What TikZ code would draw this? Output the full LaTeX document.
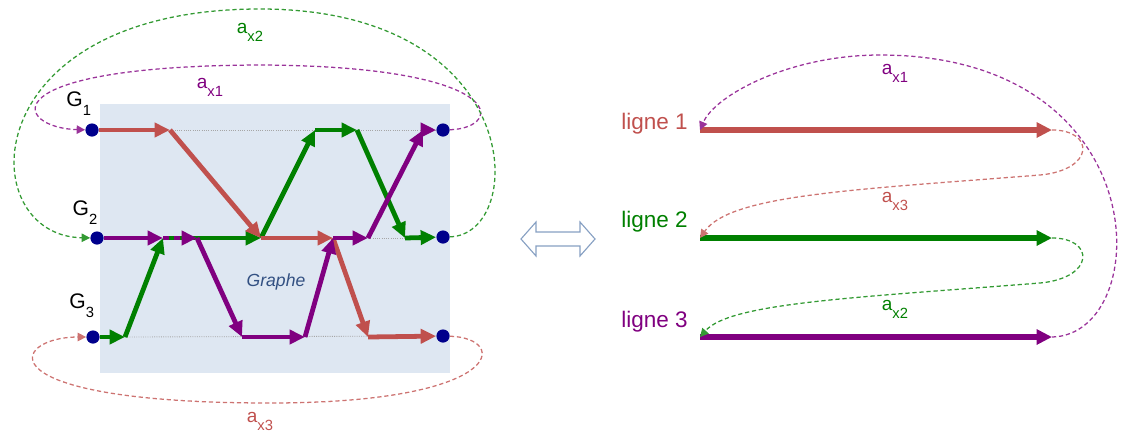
\documentclass[tikz,border=0pt]{standalone}
\usepackage{fontspec}
\setmainfont{Liberation Sans}
\usetikzlibrary{arrows.meta,positioning}
\definecolor{rougeL}{RGB}{192,80,77}
\definecolor{vertL}{RGB}{0,128,0}
\definecolor{violetL}{RGB}{128,0,128}
\definecolor{noeud}{RGB}{0,0,140}
\definecolor{fond}{RGB}{222,231,242}
\definecolor{contour}{RGB}{135,160,195}
\definecolor{texteG}{RGB}{50,80,130}
\newcommand{\indice}[2]{#1\raisebox{-0.42em}{\fontsize{10.5}{12}\selectfont #2}}
\tikzset
{
	seg/.style = {line width=3.4pt, -{Triangle[length=11pt,width=10pt]}},
	ligneseg/.style = {line width=3.8pt, -{Triangle[length=11pt,width=10.5pt]}},
	dot/.style = {circle, fill=noeud, minimum size=0.33cm, inner sep=0pt},
	guide/.style = {gray!70, densely dotted, line width=0.6pt},
	retour/.style = {dash pattern=on 3pt off 2pt, line width=0.9pt, -{Triangle[length=6pt,width=6pt]}},
	glbl/.style = {font=\fontsize{15}{17}\selectfont, inner sep=0pt},
	albl/.style = {font=\fontsize{13.5}{16}\selectfont, inner sep=0pt},
	lignelbl/.style = {font=\fontsize{16}{18}\selectfont, inner sep=0pt}
}
\begin{document}
\begin{tikzpicture}[x=0.025cm, y=-0.025cm]
	\useasboundingbox (0,0) rectangle (1124,436);
	\fill[fond] (100,104) rectangle (450,373);
	\node[dot] (s1) at (92,130) {};
	\node[dot] (s2) at (97,238) {};
	\node[dot] (s3) at (93,337) {};
	\node[dot] (e1) at (443,130) {};
	\node[dot] (e2) at (443,237) {};
	\node[dot] (e3) at (443,336) {};
	\node[glbl] (gl1) at ([xshift=-0.33cm,yshift=0.65cm]s1) {\indice{G}{1}};
	\node[glbl] (gl2) at ([xshift=-0.3cm,yshift=0.63cm]s2) {\indice{G}{2}};
	\node[glbl] (gl3) at ([xshift=-0.28cm,yshift=0.78cm]s3) {\indice{G}{3}};
	\node[font=\fontsize{12.5}{14}\selectfont\itshape, text=texteG] (graphe) at (276,282) {Graphe};
	\coordinate (r1) at (170,130);
	\coordinate (r2) at (261,238);
	\coordinate (r3) at (333,238);
	\coordinate (r4) at (368,337);
	\coordinate (g1) at (125,337);
	\coordinate (g2) at (163,238);
	\coordinate (g5) at (315,130);
	\coordinate (g6) at (357,130);
	\coordinate (g7) at (405,238);
	\coordinate (p2) at (197,238);
	\coordinate (p3) at (242,337);
	\coordinate (p4) at (305,337);
	\coordinate (p6) at (368,238);
	\coordinate (p7) at (423,130);
	\draw[guide] (r1) -- (e1);
	\draw[guide] (p6) -- (g7);
	\draw[guide] (g1) -- (e3);
	\draw[seg, vertL] (s3) -- (g1);
	\draw[seg, vertL] (g1) -- (g2);
	\draw[seg, vertL] (g2) -- (r2);
	\draw[seg, vertL] (r2) -- (g5);
	\draw[seg, vertL] (g5) -- (g6);
	\draw[seg, vertL] (g6) -- (g7);
	\draw[seg, vertL] (g7) -- (e2);
	\draw[seg, rougeL] (s1) -- (r1);
	\draw[seg, rougeL] (r1) -- (r2);
	\draw[seg, rougeL] (r2) -- (r3);
	\draw[seg, rougeL] (r3) -- (r4);
	\draw[seg, rougeL] (r4) -- (e3);
	\draw[seg, violetL] (s2) -- (g2);
	\draw[seg, violetL, dash pattern=on 4pt off 4pt] (g2) -- (p2);
	\draw[seg, violetL] (p2) -- (p3);
	\draw[seg, violetL] (p3) -- (p4);
	\draw[seg, violetL] (p4) -- (r3);
	\draw[seg, violetL] (r3) -- (p6);
	\draw[seg, violetL] (p6) -- (p7);
	\draw[seg, violetL] (p7) -- (e1);
	\coordinate (h1) at (260,65);
	\coordinate (h2) at (260,9);
	\coordinate (h3) at (270,403);
	\draw[retour, violetL!80] (e1) .. controls (505,128) and (510,66) .. (h1) .. controls (-15,66) and (15,128) .. (s1);
	\draw[retour, vertL!80] (e2) .. controls (528,235) and (528,9) .. (h2) .. controls (-28,9) and (-28,236) .. (s2);
	\draw[retour, rougeL!80] (e3) .. controls (510,338) and (505,403) .. (h3) .. controls (-20,403) and (10,337) .. (s3);
	\node[albl, text=violetL] (ax1) at (210,87) {\indice{a}{x1}};
	\node[albl, text=vertL] (ax2) at (250,32) {\indice{a}{x2}};
	\node[albl, text=rougeL] (ax3) at (260,421) {\indice{a}{x3}};
	\draw[contour, fill=white, line width=0.8pt] (521,239) -- (536,222) -- (536,232) -- (580,232) -- (580,222) -- (595,239) -- (580,256) -- (580,246) -- (536,246) -- (536,256) -- cycle;
	\coordinate (l1s) at (700,130);
	\coordinate (l1e) at (1052,130);
	\coordinate (l2s) at (700,238);
	\coordinate (l2e) at (1052,238);
	\coordinate (l3s) at (700,337);
	\coordinate (l3e) at (1052,337);
	\draw[ligneseg, rougeL] (l1s) -- (l1e);
	\draw[ligneseg, vertL] (l2s) -- (l2e);
	\draw[ligneseg, violetL] (l3s) -- (l3e);
	\node[lignelbl, text=rougeL, left=0.3cm of l1s, yshift=0.17cm] (n1) {ligne 1};
	\node[lignelbl, text=vertL, left=0.3cm of l2s, yshift=0.4cm] (n2) {ligne 2};
	\node[lignelbl, text=violetL, left=0.3cm of l3s, yshift=0.38cm] (n3) {ligne 3};
	\coordinate (t1) at (880,55);
	\coordinate (t3) at (1040,175);
	\coordinate (t2) at (1040,283);
	\draw[retour, violetL!80] (l3e) .. controls (1155,335) and (1160,55) .. (t1) .. controls (790,55) and (715,95) .. (l1s);
	\draw[retour, rougeL!80] (l1e) .. controls (1095,130) and (1095,170) .. (t3) .. controls (850,190) and (730,195) .. (l2s);
	\draw[retour, vertL!80] (l2e) .. controls (1095,238) and (1095,278) .. (t2) .. controls (850,298) and (730,303) .. (l3s);
	\node[albl, text=violetL] (bx1) at (895,73) {\indice{a}{x1}};
	\node[albl, text=rougeL] (bx3) at (895,201) {\indice{a}{x3}};
	\node[albl, text=vertL] (bx2) at (895,309) {\indice{a}{x2}};
\end{tikzpicture}
\end{document}
